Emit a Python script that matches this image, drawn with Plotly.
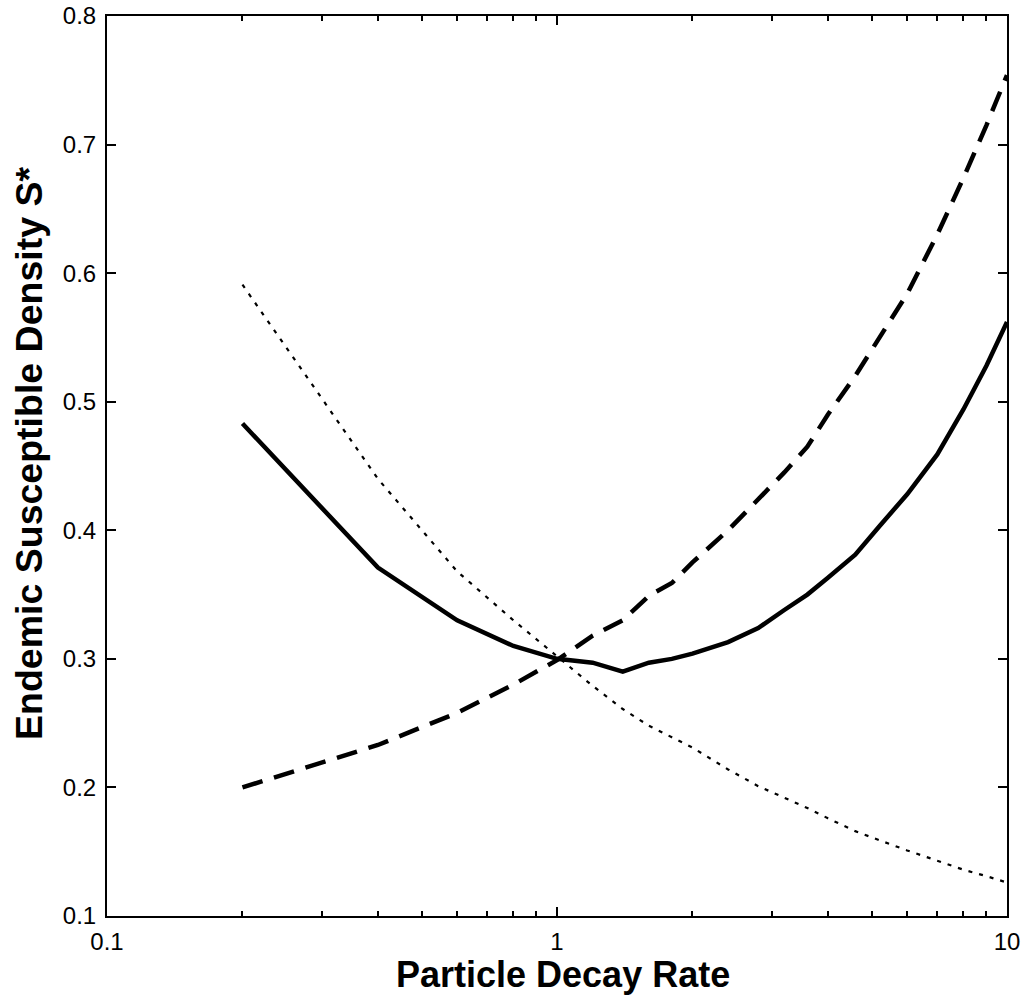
import plotly.graph_objects as go

decay_rate = [0.2, 0.4, 0.6, 0.8, 1.0, 1.2, 1.4, 1.6, 1.8, 2.0, 2.4, 2.8, 3.2, 3.6,
              4.0, 4.6, 5.2, 6.0, 7.0, 8.0, 9.0, 10.0]
s_solid = [0.483, 0.371, 0.330, 0.310, 0.300, 0.297, 0.290, 0.297, 0.300, 0.304,
           0.313, 0.324, 0.338, 0.350, 0.363, 0.381, 0.403, 0.428, 0.459, 0.494,
           0.528, 0.562]
s_dashed = [0.200, 0.233, 0.258, 0.280, 0.299, 0.318, 0.330, 0.349, 0.359, 0.375,
            0.400, 0.424, 0.445, 0.465, 0.490, 0.520, 0.550, 0.584, 0.630, 0.674,
            0.715, 0.754]
s_dotted = [0.591, 0.440, 0.368, 0.330, 0.302, 0.279, 0.261, 0.248, 0.239, 0.231,
            0.214, 0.201, 0.192, 0.184, 0.176, 0.166, 0.159, 0.151, 0.143, 0.136,
            0.131, 0.126]

x_tickvals = [0.1, 1, 10]
x_ticktext = ["0.1", "1", "10"]
x_minor_ticks = [0.2, 0.3, 0.4, 0.5, 0.6, 0.7, 0.8, 0.9, 2, 3, 4, 5, 6, 7, 8, 9]
y_tickvals = [0.1, 0.2, 0.3, 0.4, 0.5, 0.6, 0.7, 0.8]
y_ticktext = ["0.1", "0.2", "0.3", "0.4", "0.5", "0.6", "0.7", "0.8"]
x_title = "<b>Particle Decay Rate</b>"
y_title = "<b>Endemic Susceptible Density S*</b>"

fig = go.Figure()
fig.add_trace(go.Scatter(x=decay_rate, y=s_dotted, mode="lines",
                         line=dict(color="black", width=2.2, dash="4px,7px")))
fig.add_trace(go.Scatter(x=decay_rate, y=s_dashed, mode="lines",
                         line=dict(color="black", width=4.5, dash="21px,12px")))
fig.add_trace(go.Scatter(x=decay_rate, y=s_solid, mode="lines",
                         line=dict(color="black", width=4.5)))

font_family = "Liberation Sans, Arial, sans-serif"
fig.update_layout(
    width=1033, height=1000,
    margin=dict(l=107, r=26, t=16, b=84, autoexpand=False),
    paper_bgcolor="white", plot_bgcolor="white",
    showlegend=False,
    font=dict(family=font_family, color="black", size=24),
)
fig.update_xaxes(
    type="log", range=[-1, 1], automargin=False,
    tickvals=x_tickvals, ticktext=x_ticktext,
    ticks="inside", ticklen=9, tickwidth=2, tickcolor="black",
    ticklabelstandoff=3, ticklabeloverflow="allow",
    minor=dict(ticks="inside", ticklen=5, tickwidth=2, tickcolor="black",
               tickvals=x_minor_ticks, showgrid=False),
    showline=True, linecolor="black", linewidth=2, mirror="ticks",
    showgrid=False, zeroline=False,
    tickfont=dict(size=24, family=font_family),
)
fig.update_yaxes(
    range=[0.1, 0.8], automargin=False,
    tickvals=y_tickvals, ticktext=y_ticktext,
    ticks="inside", ticklen=9, tickwidth=2, tickcolor="black",
    ticklabelstandoff=4, ticklabeloverflow="allow",
    showline=True, linecolor="black", linewidth=2, mirror="ticks",
    showgrid=False, zeroline=False,
    tickfont=dict(size=24, family=font_family),
)
fig.add_annotation(text=x_title, xref="paper", yref="paper", x=0.5, y=0,
                   xanchor="center", yanchor="top", xshift=6, yshift=-36,
                   showarrow=False, font=dict(size=36, family=font_family, color="black"))
fig.add_annotation(text=y_title, xref="paper", yref="paper", x=0, y=1 - (453 - 16) / 900,
                   xanchor="center", yanchor="middle", xshift=-78, textangle=-90,
                   showarrow=False, font=dict(size=37.5, family=font_family, color="black"))

fig.write_html("out.html", config={"displayModeBar": False},
               post_script="document.body.style.margin='0';document.body.style.overflow='hidden';")
